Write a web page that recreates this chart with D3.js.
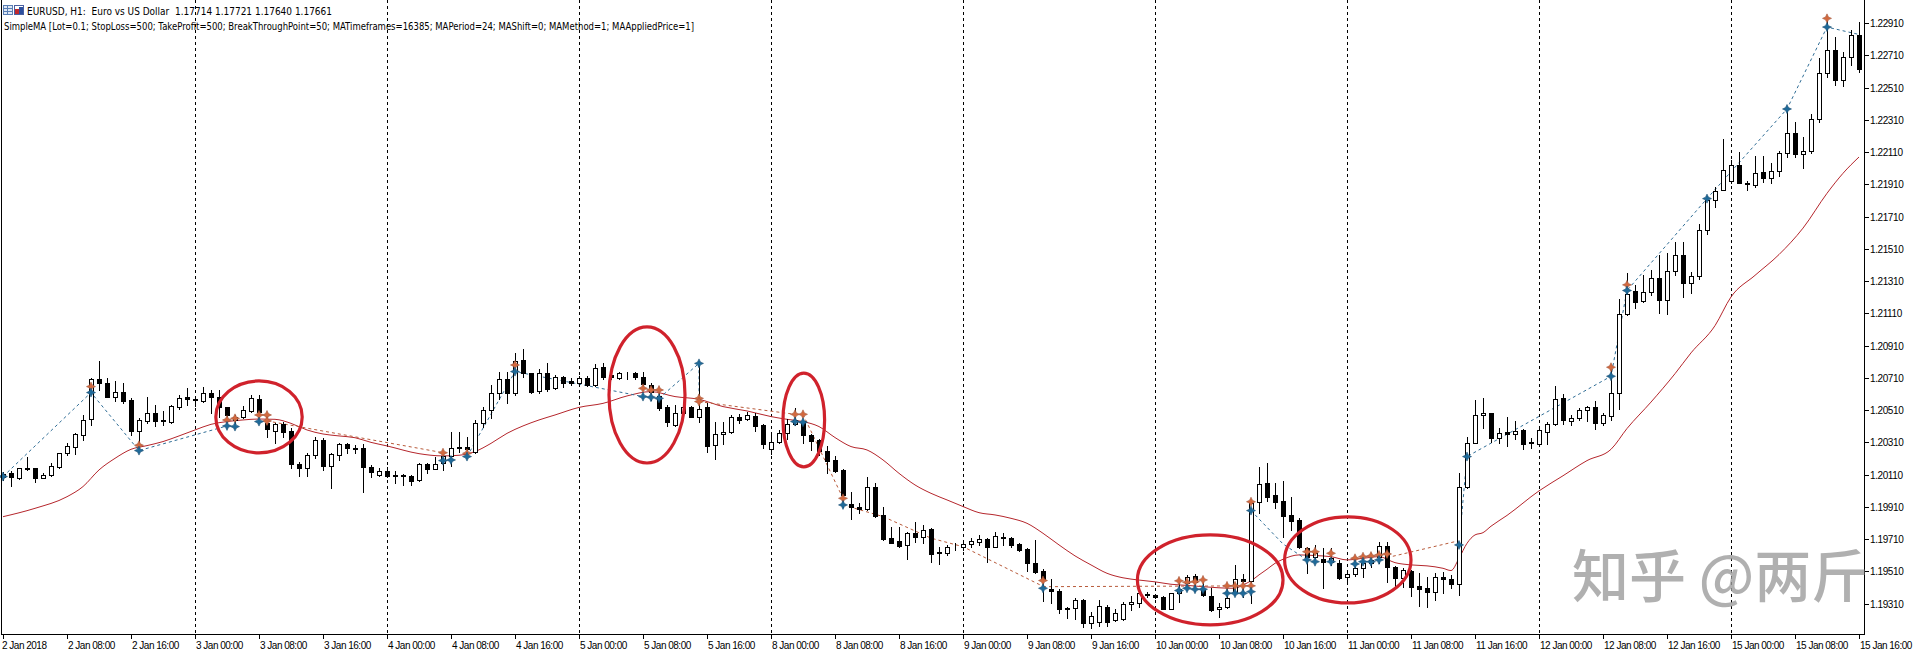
<!DOCTYPE html>
<html><head><meta charset="utf-8">
<script src="https://cdn.jsdelivr.net/npm/d3@7"></script>
<style>
html,body{margin:0;padding:0;background:#fff;overflow:hidden}
svg{display:block}
</style></head><body>
<svg id="chart" width="1916" height="654"></svg>
<script>
// ---------- DATA ----------
const headerLine1 = "EURUSD, H1:  Euro vs US Dollar  1.17714 1.17721 1.17640 1.17661";
const headerLine2 = "SimpleMA [Lot=0.1; StopLoss=500; TakeProfit=500; BreakThroughPoint=50; MATimeframes=16385; MAPeriod=24; MAShift=0; MAMethod=1; MAAppliedPrice=1]";

const xTickLabels = ["2 Jan 2018","2 Jan 08:00","2 Jan 16:00","3 Jan 00:00","3 Jan 08:00","3 Jan 16:00",
 "4 Jan 00:00","4 Jan 08:00","4 Jan 16:00","5 Jan 00:00","5 Jan 08:00","5 Jan 16:00",
 "8 Jan 00:00","8 Jan 08:00","8 Jan 16:00","9 Jan 00:00","9 Jan 08:00","9 Jan 16:00",
 "10 Jan 00:00","10 Jan 08:00","10 Jan 16:00","11 Jan 00:00","11 Jan 08:00","11 Jan 16:00",
 "12 Jan 00:00","12 Jan 08:00","12 Jan 16:00","15 Jan 00:00","15 Jan 08:00","15 Jan 16:00"];
const barsPerXTick = 8;
const daySeparators = [24,48,72,96,120,144,168,192,216];
const yTickLabels = ["1.19310","1.19510","1.19710","1.19910","1.20110","1.20310","1.20510","1.20710","1.20910",
 "1.21110","1.21310","1.21510","1.21710","1.21910","1.22110","1.22310","1.22510","1.22710","1.22910"];

const opens = [1.20093,1.20118,1.20087,1.20151,1.20149,1.20087,1.20108,1.20160,1.20242,1.20279,
1.20356,1.20453,1.20701,1.20680,1.20589,1.20625,1.20573,1.20383,1.20445,1.20490,
1.20449,1.20439,1.20532,1.20594,1.20577,1.20569,1.20614,1.20589,1.20527,1.20449,
1.20465,1.20507,1.20577,1.20428,1.20383,1.20422,1.20383,1.20174,1.20149,1.20232,
1.20325,1.20166,1.20232,1.20298,1.20273,1.20273,1.20160,1.20108,1.20135,1.20108,
1.20106,1.20102,1.20077,1.20176,1.20143,1.20180,1.20226,1.20279,1.20279,1.20253,
1.20428,1.20511,1.20618,1.20701,1.20618,1.20821,1.20738,1.20631,1.20738,1.20645,
1.20714,1.20691,1.20676,1.20711,1.20666,1.20775,1.20728,1.20707,1.20743,1.20743,
1.20714,1.20666,1.20598,1.20527,1.20418,1.20494,1.20527,1.20470,1.20527,1.20294,
1.20360,1.20377,1.20470,1.20455,1.20474,1.20418,1.20267,1.20315,1.20366,1.20422,
1.20440,1.20356,1.20325,1.20259,1.20201,1.20139,1.19926,1.19912,1.19895,1.20036,
1.19860,1.19715,1.19699,1.19672,1.19750,1.19725,1.19771,1.19628,1.19626,1.19663,
1.19663,1.19678,1.19694,1.19711,1.19663,1.19725,1.19715,1.19680,1.19647,1.19564,
1.19515,1.19399,1.19391,1.19283,1.19281,1.19333,1.19190,1.19198,1.19291,1.19209,
1.19213,1.19308,1.19316,1.19368,1.19362,1.19353,1.19279,1.19374,1.19436,1.19482,
1.19399,1.19357,1.19275,1.19287,1.19384,1.19461,1.19451,1.19942,1.20056,1.19984,
1.19947,1.19860,1.19829,1.19653,1.19601,1.19585,1.19570,1.19560,1.19473,1.19492,
1.19529,1.19564,1.19601,1.19668,1.19540,1.19467,1.19515,1.19420,1.19405,1.19380,
1.19473,1.19461,1.19432,1.20036,1.20308,1.20478,1.20490,1.20337,1.20373,1.20363,
1.20384,1.20312,1.20302,1.20377,1.20424,1.20584,1.20443,1.20462,1.20513,1.20532,
1.20431,1.20471,1.20619,1.21104,1.21252,1.21189,1.21240,1.21329,1.21193,1.21376,
1.21475,1.21299,1.21339,1.21627,1.21815,1.21878,1.21932,1.22033,1.21916,1.21909,
1.21986,1.21948,1.21995,1.22108,1.22230,1.22096,1.22120,1.22314,1.22600,1.22746,
1.22558,1.22699,1.22835];

const highs = [1.20129,1.20135,1.20153,1.20222,1.20153,1.20118,1.20180,1.20246,1.20304,1.20370,
1.20480,1.20707,1.20817,1.20707,1.20691,1.20676,1.20583,1.20459,1.20589,1.20542,
1.20505,1.20542,1.20604,1.20649,1.20589,1.20656,1.20635,1.20635,1.20532,1.20480,
1.20536,1.20604,1.20604,1.20486,1.20428,1.20439,1.20397,1.20190,1.20242,1.20346,
1.20335,1.20242,1.20308,1.20308,1.20294,1.20300,1.20170,1.20149,1.20160,1.20135,
1.20114,1.20108,1.20184,1.20180,1.20222,1.20253,1.20377,1.20377,1.20346,1.20449,
1.20527,1.20666,1.20749,1.20749,1.20862,1.20887,1.20743,1.20763,1.20804,1.20728,
1.20722,1.20707,1.20722,1.20722,1.20796,1.20800,1.20738,1.20749,1.20749,1.20749,
1.20749,1.20676,1.20645,1.20542,1.20542,1.20542,1.20536,1.20805,1.20552,1.20439,
1.20439,1.20480,1.20484,1.20501,1.20490,1.20424,1.20362,1.20387,1.20453,1.20521,
1.20445,1.20362,1.20329,1.20288,1.20226,1.20143,1.20005,1.19932,1.20098,1.20060,
1.19912,1.19788,1.19788,1.19757,1.19819,1.19798,1.19777,1.19659,1.19674,1.19684,
1.19694,1.19719,1.19736,1.19715,1.19757,1.19746,1.19725,1.19688,1.19653,1.19705,
1.19523,1.19461,1.19399,1.19291,1.19343,1.19337,1.19260,1.19333,1.19302,1.19275,
1.19322,1.19357,1.19415,1.19382,1.19368,1.19357,1.19378,1.19461,1.19486,1.19494,
1.19461,1.19405,1.19312,1.19420,1.19550,1.19494,1.19953,1.20160,1.20180,1.20056,
1.20073,1.19969,1.19839,1.19664,1.19674,1.19653,1.19653,1.19581,1.19508,1.19591,
1.19612,1.19622,1.19695,1.19695,1.19544,1.19529,1.19519,1.19498,1.19477,1.19498,
1.19508,1.19488,1.20118,1.20346,1.20573,1.20583,1.20495,1.20401,1.20466,1.20443,
1.20396,1.20337,1.20408,1.20438,1.20659,1.20612,1.20478,1.20525,1.20537,1.20565,
1.20495,1.20783,1.21198,1.21358,1.21287,1.21346,1.21381,1.21475,1.21487,1.21550,
1.21550,1.21369,1.21662,1.21838,1.21897,1.22190,1.22061,1.22113,1.21932,1.22089,
1.22089,1.22042,1.22120,1.22385,1.22300,1.22202,1.22347,1.22694,1.22929,1.22823,
1.22729,1.22870,1.22917];

const lows = [1.20077,1.20042,1.20081,1.20139,1.20067,1.20087,1.20102,1.20149,1.20232,1.20238,
1.20325,1.20418,1.20635,1.20589,1.20569,1.20556,1.20356,1.20294,1.20428,1.20412,
1.20418,1.20432,1.20515,1.20542,1.20536,1.20563,1.20490,1.20470,1.20439,1.20408,
1.20459,1.20501,1.20470,1.20341,1.20309,1.20341,1.20149,1.20104,1.20104,1.20211,
1.20139,1.20029,1.20201,1.20242,1.20242,1.20005,1.20098,1.20102,1.20098,1.20060,
1.20046,1.20046,1.20073,1.20122,1.20143,1.20139,1.20164,1.20253,1.20226,1.20246,
1.20403,1.20459,1.20577,1.20552,1.20604,1.20714,1.20614,1.20618,1.20631,1.20639,
1.20656,1.20666,1.20670,1.20662,1.20660,1.20701,1.20701,1.20701,1.20701,1.20701,
1.20656,1.20573,1.20511,1.20412,1.20412,1.20470,1.20465,1.20439,1.20253,1.20205,
1.20300,1.20366,1.20432,1.20449,1.20383,1.20273,1.20238,1.20304,1.20329,1.20415,
1.20304,1.20263,1.20232,1.20118,1.20129,1.19912,1.19833,1.19870,1.19891,1.19850,
1.19705,1.19684,1.19659,1.19585,1.19694,1.19688,1.19570,1.19556,1.19612,1.19643,
1.19643,1.19663,1.19674,1.19570,1.19659,1.19674,1.19663,1.19637,1.19515,1.19498,
1.19329,1.19316,1.19254,1.19219,1.19213,1.19167,1.19160,1.19170,1.19170,1.19205,
1.19209,1.19271,1.19291,1.19353,1.19343,1.19275,1.19275,1.19322,1.19395,1.19391,
1.19357,1.19267,1.19229,1.19281,1.19374,1.19353,1.19312,1.19870,1.19949,1.19901,
1.19726,1.19767,1.19653,1.19502,1.19560,1.19405,1.19550,1.19461,1.19446,1.19482,
1.19477,1.19540,1.19564,1.19446,1.19411,1.19415,1.19357,1.19296,1.19291,1.19333,
1.19374,1.19405,1.19364,1.20025,1.20304,1.20400,1.20314,1.20307,1.20290,1.20330,
1.20267,1.20274,1.20298,1.20298,1.20415,1.20424,1.20415,1.20448,1.20443,1.20391,
1.20415,1.20448,1.20518,1.21100,1.21142,1.21182,1.21222,1.21111,1.21104,1.21346,
1.21212,1.21235,1.21322,1.21604,1.21768,1.21873,1.21920,1.21916,1.21873,1.21897,
1.21925,1.21920,1.21963,1.22080,1.22080,1.22014,1.22103,1.22296,1.22577,1.22525,
1.22518,1.22652,1.22605];

const closes = [1.20114,1.20093,1.20149,1.20143,1.20087,1.20108,1.20164,1.20242,1.20288,1.20360,
1.20449,1.20701,1.20680,1.20589,1.20625,1.20567,1.20383,1.20449,1.20490,1.20445,
1.20441,1.20536,1.20587,1.20577,1.20575,1.20614,1.20589,1.20532,1.20480,1.20465,
1.20511,1.20583,1.20501,1.20391,1.20422,1.20377,1.20176,1.20149,1.20232,1.20325,
1.20164,1.20236,1.20298,1.20273,1.20267,1.20160,1.20124,1.20135,1.20102,1.20104,
1.20104,1.20073,1.20176,1.20143,1.20176,1.20226,1.20277,1.20275,1.20267,1.20428,
1.20511,1.20618,1.20701,1.20618,1.20817,1.20743,1.20625,1.20743,1.20639,1.20714,
1.20680,1.20676,1.20711,1.20666,1.20769,1.20714,1.20714,1.20743,1.20738,1.20714,
1.20672,1.20625,1.20521,1.20439,1.20494,1.20527,1.20470,1.20515,1.20288,1.20360,
1.20377,1.20470,1.20449,1.20480,1.20414,1.20298,1.20315,1.20366,1.20422,1.20450,
1.20356,1.20321,1.20259,1.20197,1.20133,1.19984,1.19912,1.19899,1.20036,1.19854,
1.19709,1.19688,1.19668,1.19746,1.19721,1.19767,1.19616,1.19624,1.19663,1.19659,
1.19678,1.19697,1.19709,1.19663,1.19730,1.19715,1.19674,1.19643,1.19560,1.19508,
1.19457,1.19391,1.19275,1.19277,1.19333,1.19188,1.19230,1.19296,1.19198,1.19250,
1.19308,1.19322,1.19374,1.19362,1.19349,1.19279,1.19374,1.19399,1.19477,1.19446,
1.19364,1.19271,1.19287,1.19343,1.19461,1.19451,1.19936,1.20052,1.19974,1.19942,
1.19854,1.19825,1.19659,1.19601,1.19622,1.19570,1.19591,1.19467,1.19492,1.19529,
1.19564,1.19581,1.19668,1.19540,1.19467,1.19519,1.19415,1.19399,1.19380,1.19473,
1.19463,1.19430,1.20036,1.20304,1.20480,1.20490,1.20337,1.20366,1.20363,1.20382,
1.20298,1.20307,1.20384,1.20424,1.20579,1.20448,1.20462,1.20513,1.20532,1.20431,
1.20478,1.20619,1.21104,1.21229,1.21182,1.21240,1.21329,1.21193,1.21376,1.21475,
1.21299,1.21339,1.21627,1.21815,1.21869,1.22002,1.22033,1.21920,1.21911,1.21979,
1.21948,1.21995,1.22108,1.22230,1.22096,1.22120,1.22314,1.22600,1.22746,1.22558,
1.22699,1.22835,1.22624];

// Moving average (MAPeriod=24) at sample bars
const maBars = [0,4,8,10,12,14,16,18,20,22,24,26,28,30,32,34,36,38,40,42,44,46,48,52,55,57,59,61,63,65,67,69,72,75,78,81,84,87,90,93,96,98,100,102,104,106,108,110,112,114,116,118,120,122,124,126,128,130,132,134,136,138,140,142,144,146,148,150,152,154,155,156,157,158,159,160,162,164,166,168,170,172,174,176,178,180,181,182,183,184,185,186,188,192,195,198,201,203,206,209,211,214,216,219,222,225,228,230,232];
const maValues = [1.19849,1.19901,1.19973,1.20036,1.20139,1.20211,1.20267,1.20290,1.20315,1.20350,1.20387,1.20422,1.20439,1.20449,1.20455,1.20453,1.20428,1.20387,1.20362,1.20350,1.20339,1.20310,1.20288,1.20240,1.20226,1.20230,1.20253,1.20304,1.20366,1.20412,1.20449,1.20480,1.20527,1.20552,1.20598,1.20625,1.20594,1.20577,1.20532,1.20505,1.20470,1.20453,1.20439,1.20408,1.20340,1.20284,1.20263,1.20201,1.20118,1.20046,1.19994,1.19953,1.19912,1.19874,1.19860,1.19839,1.19808,1.19746,1.19674,1.19606,1.19550,1.19498,1.19470,1.19456,1.19445,1.19430,1.19423,1.19415,1.19408,1.19405,1.19426,1.19451,1.19488,1.19523,1.19560,1.19585,1.19612,1.19608,1.19601,1.19581,1.19591,1.19601,1.19564,1.19550,1.19544,1.19529,1.19515,1.19591,1.19684,1.19736,1.19750,1.19790,1.19857,1.20009,1.20103,1.20197,1.20267,1.20396,1.20560,1.20736,1.20865,1.21034,1.21212,1.21346,1.21475,1.21639,1.21855,1.21979,1.22080];

// Signal arrows of the EA: [bar, price]
const buyArrows = [[0,1.20098],[11,1.20619],[17,1.20259],[28,1.20412],[29,1.20408],[32,1.20439],[55,1.20197],[56,1.20201],[58,1.20222],[64,1.20749],[80,1.20594],[81,1.20590],[82,1.20583],[87,1.20800],[99,1.20439],[100,1.20435],[105,1.19922],[130,1.19405],[147,1.19391],[148,1.19405],[149,1.19399],[150,1.19399],[153,1.19374],[154,1.19374],[155,1.19374],[156,1.19384],[156,1.19887],[163,1.19581],[164,1.19570],[166,1.19570],[169,1.19556],[170,1.19570],[171,1.19570],[172,1.19581],[182,1.19674],[183,1.20222],[201,1.20720],[203,1.21252],[213,1.21822],[223,1.22378],[228,1.22886]];
const sellArrows = [[11,1.20656],[17,1.20292],[28,1.20449],[29,1.20459],[32,1.20480],[33,1.20480],[33,1.20443],[55,1.20246],[58,1.20242],[64,1.20790],[80,1.20645],[81,1.20635],[82,1.20635],[87,1.20583],[87,1.20563],[99,1.20484],[100,1.20484],[105,1.19963],[130,1.19453],[147,1.19451],[148,1.19442],[149,1.19446],[150,1.19457],[153,1.19420],[154,1.19420],[155,1.19420],[156,1.19420],[156,1.19942],[163,1.19632],[164,1.19632],[166,1.19622],[169,1.19591],[170,1.19601],[171,1.19605],[172,1.19612],[173,1.19618],[201,1.20776],[203,1.21287],[228,1.22940]];

// dashed trend lines drawn by the EA: lists of [bar, price]
const blueLines = [
 [[0,1.20098],[11,1.20619],[17,1.20259],[28,1.20412]],
 [[58,1.20222],[64,1.20749],[80,1.20594]],
 [[82,1.20583],[87,1.20800],[87,1.20573]],
 [[156,1.19887],[160,1.19680],[163,1.19581]],
 [[182,1.19674],[183,1.20222],[201,1.20720],[203,1.21252],[213,1.21822],[223,1.22378],[228,1.22886],[232,1.22840]]
];
const orangeLines = [
 [[33,1.20443],[55,1.20246]],
 [[87,1.20563],[99,1.20484]],
 [[100,1.20484],[105,1.19963]],
 [[105,1.19922],[110,1.19850],[116,1.19716],[120,1.19663],[130,1.19417]],
 [[130,1.19415],[156,1.19420]],
 [[173,1.19595],[182,1.19700]]
];

// hand-drawn red ellipses: [centre bar, centre price, half-width in bars, half-height in price]
const ellipses = [[32,1.20468,5.4,0.00223],[80.5,1.20604,4.75,0.00422],[100.1,1.20449,2.6,0.00291],[150.9,1.19457,9.1,0.00279],[168.1,1.19581,7.9,0.00267]];

const watermark = "知乎 @两斤";

// ---------- DRAW ----------
const svg = d3.select("#chart");
const W = 1916, H = 654;
const plotRight = 1864, plotBottom = 634;
const nBars = opens.length;

const x = d3.scaleLinear().domain([0, 232]).range([3, 1859]);
const y = d3.scaleLinear().domain([1.19310, 1.22910]).range([603.6, 23.2]);

svg.append("rect").attr("width", W).attr("height", H).attr("fill", "#fff");

// day separators
svg.append("g").selectAll("line").data(daySeparators).join("line")
  .attr("x1", d => Math.round(x(d)) + 0.5).attr("x2", d => Math.round(x(d)) + 0.5)
  .attr("y1", 0).attr("y2", plotBottom)
  .attr("stroke", "#000").attr("stroke-width", 1).attr("stroke-dasharray", "3,3");

// header
const hdr = svg.append("g").attr("font-family", "Tahoma, 'DejaVu Sans', sans-serif").attr("font-size", 10.5).attr("fill", "#000");
// icons
const ic = hdr.append("g");
ic.append("rect").attr("x", 3.5).attr("y", 5.5).attr("width", 9).attr("height", 9).attr("fill", "#dfe8f5").attr("stroke", "#5a7fb5");
ic.append("path").attr("d", "M4,8.5H12M4,11.5H12M7.5,6V14").attr("stroke", "#5a7fb5").attr("fill", "none");
ic.append("rect").attr("x", 14.5).attr("y", 5.5).attr("width", 9).attr("height", 9).attr("fill", "#fff").attr("stroke", "#4a5fa0");
ic.append("rect").attr("x", 15).attr("y", 9).attr("width", 4).attr("height", 5).attr("fill", "#c0282d");
ic.append("rect").attr("x", 19).attr("y", 7).attr("width", 4).attr("height", 7).attr("fill", "#2c4f9e");
hdr.append("text").attr("x", 27).attr("y", 15).style("white-space", "pre")
  .attr("textLength", 305).attr("lengthAdjust", "spacingAndGlyphs").text(headerLine1);
hdr.append("text").attr("x", 4).attr("y", 30).style("white-space", "pre")
  .attr("textLength", 690).attr("lengthAdjust", "spacingAndGlyphs").text(headerLine2);

// MA line
svg.append("path")
  .attr("d", d3.line().x((d, i) => x(d)).y((d, i) => y(maValues[i])).curve(d3.curveMonotoneX)(maBars))
  .attr("fill", "none").attr("stroke", "#b5262c").attr("stroke-width", 1);

// dashed EA lines
const lineGen = d3.line().x(d => x(d[0])).y(d => y(d[1]));
svg.append("g").selectAll("path").data(orangeLines).join("path")
  .attr("d", lineGen).attr("fill", "none").attr("stroke", "#b85a3a").attr("stroke-width", 1).attr("stroke-dasharray", "3,3");
svg.append("g").selectAll("path").data(blueLines).join("path")
  .attr("d", lineGen).attr("fill", "none").attr("stroke", "#2f6d96").attr("stroke-width", 1).attr("stroke-dasharray", "3,3");

// candles
const bars = d3.range(nBars);
const cg = svg.append("g").attr("shape-rendering", "crispEdges");
cg.selectAll("line.wick").data(bars).join("line").attr("class", "wick")
  .attr("x1", i => Math.round(x(i)) + 0.5).attr("x2", i => Math.round(x(i)) + 0.5)
  .attr("y1", i => Math.round(y(highs[i]))).attr("y2", i => Math.round(y(lows[i])) + 1)
  .attr("stroke", "#000");
cg.selectAll("rect.body").data(bars).join("rect").attr("class", "body")
  .attr("x", i => Math.round(x(i)) - 1.5)
  .attr("width", 4)
  .attr("y", i => Math.round(y(Math.max(opens[i], closes[i]))) + 0.5)
  .attr("height", i => Math.max(0, Math.round(y(Math.min(opens[i], closes[i]))) - Math.round(y(Math.max(opens[i], closes[i])))))
  .attr("fill", i => closes[i] >= opens[i] ? "#fff" : "#000")
  .attr("stroke", "#000").attr("stroke-width", 1);

// arrows
function star(r) {
  const a = r * 0.32;
  return `M0,${-r}L${a},${-a}L${r},0L${a},${a}L0,${r}L${-a},${a}L${-r},0L${-a},${-a}Z`;
}
svg.append("g").selectAll("path").data(sellArrows).join("path")
  .attr("transform", d => `translate(${Math.round(x(d[0]))},${y(d[1])})`)
  .attr("d", star(4.5)).attr("fill", "#d2693f").attr("stroke", "#a4583c").attr("stroke-width", 0.6);
svg.append("g").selectAll("path").data(buyArrows).join("path")
  .attr("transform", d => `translate(${Math.round(x(d[0]))},${y(d[1])})`)
  .attr("d", star(4.5)).attr("fill", "#1f6a99").attr("stroke", "#1b4f73").attr("stroke-width", 0.6);

// red ellipses
svg.append("g").selectAll("ellipse").data(ellipses).join("ellipse")
  .attr("cx", d => x(d[0])).attr("cy", d => y(d[1]))
  .attr("rx", d => x(d[0] + d[2]) - x(d[0])).attr("ry", d => y(d[1]) - y(d[1] + d[3]))
  .attr("fill", "none").attr("stroke", "#d0222c").attr("stroke-width", 3.2);

// frame & axes
const ax = svg.append("g").attr("shape-rendering", "crispEdges");
ax.append("line").attr("x1", 1.5).attr("x2", 1.5).attr("y1", 0).attr("y2", plotBottom + 0.5).attr("stroke", "#000");
ax.append("line").attr("x1", plotRight + 0.5).attr("x2", plotRight + 0.5).attr("y1", 0).attr("y2", plotBottom + 0.5).attr("stroke", "#000");
ax.append("line").attr("x1", 1).attr("x2", plotRight + 1).attr("y1", plotBottom + 0.5).attr("y2", plotBottom + 0.5).attr("stroke", "#000");

// y axis ticks
const yt = svg.append("g").attr("font-family", "'Liberation Sans', Arial, sans-serif").attr("font-size", 10).attr("letter-spacing", "-0.4px");
yTickLabels.forEach(lbl => {
  const yy = Math.round(y(+lbl)) + 0.5;
  yt.append("line").attr("x1", plotRight).attr("x2", plotRight + 5).attr("y1", yy).attr("y2", yy).attr("stroke", "#000").attr("shape-rendering", "crispEdges");
  yt.append("text").attr("x", plotRight + 6).attr("y", yy + 3.5).text(lbl);
});

// x axis ticks
const xt = svg.append("g").attr("font-family", "'Liberation Sans', Arial, sans-serif").attr("font-size", 10).attr("letter-spacing", "-0.5px");
xTickLabels.forEach((lbl, k) => {
  const xx = Math.round(x(k * barsPerXTick)) + 0.5;
  xt.append("line").attr("x1", xx).attr("x2", xx).attr("y1", plotBottom).attr("y2", plotBottom + 5).attr("stroke", "#000").attr("shape-rendering", "crispEdges");
  xt.append("text").attr("x", k === 0 ? 2 : xx + 0.5).attr("y", 649).text(lbl);
});

// watermark
svg.append("text").attr("x", 1572).attr("y", 597)
  .attr("font-family", "'Noto Sans CJK SC', sans-serif").attr("font-size", 57).attr("font-weight", 500)
  .attr("fill", "#9c9c9c").attr("fill-opacity", 0.8).style("white-space", "pre")
  .text(watermark);
</script>
</body></html>
